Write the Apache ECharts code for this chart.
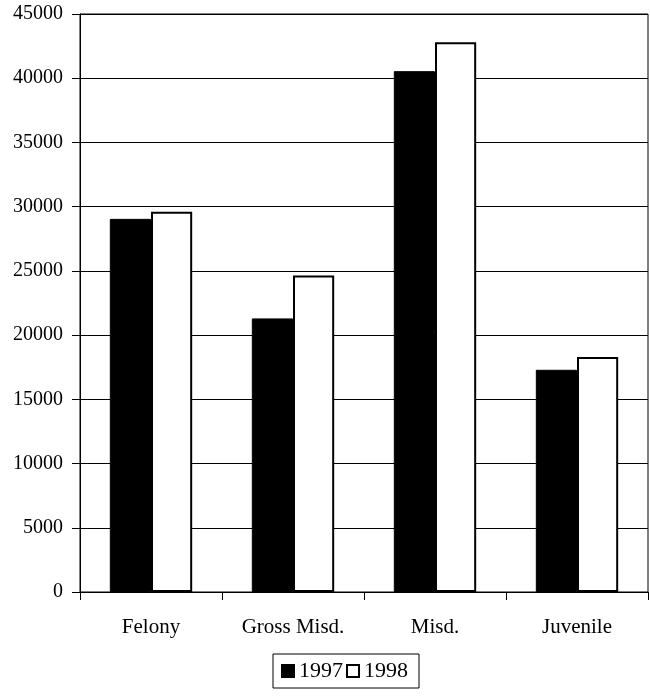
<!DOCTYPE html>
<html>
<head>
<meta charset="utf-8">
<script src="https://cdn.jsdelivr.net/npm/echarts@6/dist/echarts.min.js"></script>
<style>html,body{margin:0;padding:0;background:#fff;}#c{width:650px;height:698px;}</style>
</head>
<body>
<div id="c"></div>
<script>
const categories = ['Felony', 'Gross Misd.', 'Misd.', 'Juvenile'];
const series1997 = [29050, 21300, 40550, 17300];
const series1998 = [29600, 24650, 42800, 18300];
const seriesNames = ['1997', '1998'];

const chart = echarts.init(document.getElementById('c'));
const font = '"Liberation Serif", "Times New Roman", serif';
chart.setOption({
  animation: false,
  backgroundColor: '#fff',
  textStyle: { fontFamily: font, color: '#000' },
  grid: { left: 80, right: 2, top: 14, bottom: 106, show: true, borderColor: '#000', borderWidth: 1 },
  legend: {
    data: seriesNames,
    left: 273, top: 654,
    orient: 'horizontal',
    icon: 'rect',
    itemWidth: 12, itemHeight: 12, itemGap: 3,
    padding: [6, 11, 6, 8],
    borderColor: '#000', borderWidth: 1,
    textStyle: { fontFamily: font, fontSize: 22, color: '#000', padding: [0, 0, 0, 0] }
  },
  xAxis: {
    type: 'category',
    data: categories,
    boundaryGap: true,
    axisLine: { lineStyle: { color: '#000', width: 1 } },
    axisTick: { show: true, length: 8, lineStyle: { color: '#000' } },
    axisLabel: { fontFamily: font, fontSize: 21, color: '#000', margin: 25 },
    splitLine: { show: false }
  },
  yAxis: {
    type: 'value',
    min: 0, max: 45000, interval: 5000,
    axisLine: { show: true, lineStyle: { color: '#000', width: 1 } },
    axisTick: { show: true, length: 8, lineStyle: { color: '#000' } },
    axisLabel: { fontFamily: font, fontSize: 20, color: '#000', margin: 17, formatter: function (v) { return String(v); } },
    splitLine: { show: true, lineStyle: { color: '#000', width: 1 } }
  },
  series: [
    {
      name: seriesNames[0], type: 'bar', data: series1997,
      barGap: '0%', barCategoryGap: '42%',
      itemStyle: { color: '#000', borderColor: '#000', borderWidth: 1 }
    },
    {
      name: seriesNames[1], type: 'bar', data: series1998,
      barGap: '0%', barCategoryGap: '42%',
      itemStyle: { color: '#fff', borderColor: '#000', borderWidth: 2 }
    }
  ]
});
</script>
</body>
</html>
